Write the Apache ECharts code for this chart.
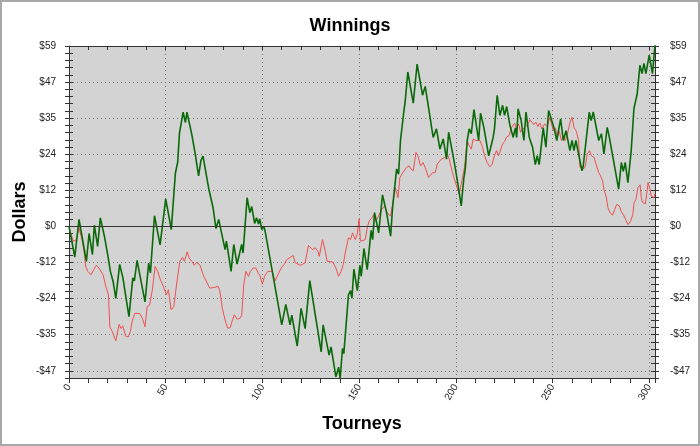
<!DOCTYPE html>
<html>
<head>
<meta charset="utf-8">
<script src="https://cdn.jsdelivr.net/npm/echarts@6/dist/echarts.min.js"></script>
<style>
html,body{margin:0;padding:0;background:#fff;}
#c{width:700px;height:446px;}
</style>
</head>
<body>
<div id="c"></div>
<script>
// ---- data ----
const greenTourneys = [0,3,5.2,7.2,9,10.4,12.1,13.1,14.8,16.2,18.3,20,21.4,22.8,24.2,26.2,27.9,31,33,33.8,35.2,39.3,41.2,42.1,44.2,47.1,50,52.9,55,56.2,57.1,59,60.2,61,63.5,65.2,67,68.2,69.3,72.2,74.5,76,77.4,80.7,81.4,83.8,85.2,86.9,89.3,90,92.1,93.5,94.5,96,97,98,98.6,99.7,100.7,101.4,105.5,110,112.1,114.3,115.2,118,120,122.1,124.5,130.4,131.4,134.5,135.5,138,139.4,140.2,141.4,142.1,144.5,145.6,146.3,147.3,149.1,150.4,151.1,152.5,154.2,156.2,157,158,160.1,162.1,164.2,166.3,167.3,169.4,170.4,171.4,172.2,173.2,173.8,175.2,178,180,182.8,184.2,188.3,190,191.8,193.5,195.2,196.3,199.2,201.1,202.8,204.2,204.9,205.9,206.9,208,209.4,211.8,212.8,214.5,217,219.3,220,221.4,222.8,224.2,225.2,226.3,228,229.7,230.8,231.5,232.2,233.8,235.2,236.3,238,239.7,241.1,242.1,243.1,245.2,246.6,248,249,250.8,252.2,254.2,255.6,257,259,260.1,261.1,262.1,265.2,265.9,269,270,271.1,273.9,275.3,276.6,278.3,279.4,284.2,285.6,286.6,287.6,289,290.7,292.1,293.8,295.2,296.3,297.3,298.3,300,301.7,303];
const greenDollars = [0,-10,2.3,-5,-11.4,-2.3,-9.2,0.4,-6.5,2.8,-3.2,-9.2,-14.7,-18,-23.5,-12.4,-16.9,-29.5,-16.8,-17.8,-11.1,-24.7,-12,-15.2,3.5,-6,9,-1,17.4,21,30.4,37.4,34,37.4,30,24,16.5,21.5,23,12.5,6.1,-0.7,2.3,-7.6,-4.8,-14.7,-5.9,-12.3,-5.9,-8.7,9.4,4.5,6.5,1,2.8,0.8,2.5,-1,0.1,-1.5,-16,-32.2,-25.5,-32.2,-29,-39.1,-26.8,-33.4,-17.7,-41,-32.2,-42.1,-39.4,-49.2,-46,-49.8,-39.9,-41.6,-22.4,-21,-23.5,-14,-21,-12.7,-16.3,-7.2,-14.1,-1.3,-4.3,4.5,-2.1,10.3,4.5,-3.2,6.1,18.8,17.1,28.1,28.5,37.9,40.7,50.5,40.3,53.1,42.9,45.8,29.1,31.9,25.3,28.6,22,30.8,21,13.8,6.7,16,18.8,28.1,31.9,30.3,38.2,28.1,37,32.4,23.1,29.1,31.9,42.9,36.3,39.6,36.3,39.2,33,29.1,32.2,29.1,38.5,34.6,28.1,37.4,29.1,25.9,20.2,23.1,20.2,32.2,25.9,37.9,38.5,32.2,28.1,35.2,28.1,31.3,24.8,28.1,24.8,28.1,18.2,19.8,37.4,34.6,37.4,28.1,30.3,23.7,32.4,29.1,12.2,20.9,18,20.9,14.3,24.8,38.5,43.4,52.7,50,53.3,50,56,50,59.3];

const redTourneys = [0,2.1,3.5,5.2,6.9,8,8.6,9.7,11.4,12.8,14.2,15.5,17.6,19.3,20.4,21.1,22.4,24.2,25.9,26.9,27.8,29.3,30.7,31.7,32.8,34.1,36.6,38,39.3,40.4,41.7,43.1,44.5,45.9,47.3,48.6,50.4,51.4,52.8,54.2,55.6,57.3,58.7,59.7,61.1,62.1,63.5,64.8,65.9,67.6,68.6,69.7,72.8,75.4,77.1,77.9,79.3,80.7,82.1,83.4,84.5,85.5,86.9,88.3,89.3,90.3,91.4,92.8,93.8,95.2,96.6,97.9,98.7,100,101.1,102.8,104.9,106.6,108,109.7,111.4,112.5,113.5,115.9,117,119.7,122.1,122.8,123.8,125.9,127.3,128.7,129.4,131.1,132.5,133.5,136.3,138,139.4,140.7,141.8,142.8,144.5,145.6,146.6,148,149,150,150.7,152.1,153.2,154.2,155.2,156.6,157.6,158.7,160,161.8,163.2,164.2,165.2,166.3,167.3,168.7,170.1,171.1,172.1,173.1,174.5,175.9,176.9,178,179.4,180.4,181.8,183.1,184.5,185.9,186.9,188,189.4,190.4,191.4,192.5,193.5,194.5,195.6,196.6,197.3,198.3,199.3,200.7,201.8,204.5,205.9,206.9,208,209,210.4,212.5,213.8,214.9,216.2,217.6,218.7,220,221.1,222.1,222.8,224.2,225.2,226.2,227.6,228.7,229.7,230.4,231.4,232.5,233.5,234.2,235.2,236.2,237.3,238.3,239.3,240.4,241.4,242.5,243.5,244.5,245.9,247.3,248.7,249.7,250.4,251.5,252.5,253.5,254.6,255.6,256.6,257.7,259.1,260.1,261.1,262.2,262.8,263.5,264.2,265.3,265.9,267,268,269.1,270.1,271.5,272.5,273.9,274.9,275.9,276.6,277.7,278.7,279.7,281.1,282.2,283.2,283.9,284.6,285.6,287,288,289,289.7,290.4,291.5,292.2,293.2,294.2,295.3,295.9,296.6,297.3,298,298.7,299.4,300.4,301.1,301.8,302.5,303];
const redDollars = [-0.5,-4.6,-4.8,-0.5,-4.8,-9.2,-13,-14.7,-15.8,-14.1,-12.7,-13.6,-15.8,-20.2,-22.4,-32.8,-34.4,-37.4,-32,-33.4,-32.5,-35.9,-36.1,-34.4,-30.6,-28.4,-28.5,-30.1,-32.8,-26.2,-25.7,-20.7,-13.1,-14.7,-17.5,-19.3,-22.4,-20.7,-27.3,-26.2,-19.1,-11.4,-10.1,-11.4,-8.3,-10.3,-11.4,-12.7,-11.8,-12.5,-12.3,-16.3,-20.2,-19.9,-19.6,-20.7,-26.8,-30.6,-33.3,-33.1,-30.6,-28.9,-30.3,-30.1,-29.2,-19.5,-14.7,-16.3,-14.7,-13.6,-13.6,-15.3,-16,-18.9,-16.3,-14.7,-14.7,-17.8,-15.8,-13.6,-12.3,-10.9,-11.4,-9.5,-11.9,-12.7,-11.9,-11.4,-6.2,-7.6,-7,-8.1,-9.8,-4.3,-8.1,-11.4,-11.6,-13.6,-16.3,-14.7,-12.5,-8.7,-3.7,-4.3,-2.1,-4.3,-2.6,2.5,-4.8,-4.6,-4.3,-0.5,1.7,2.8,3.9,1.7,3.4,5.6,6.7,5,3.9,3.4,7.2,12.7,9.4,16,17.1,17.6,19.3,19.8,18.7,18.2,24.2,23.1,19.8,20.9,18.7,16,16.5,17.6,17.6,20.4,19.8,22,22,22.6,23.7,22,21.5,17.6,15.4,12.7,10.5,19.3,28.1,26.4,25.3,28.6,28.1,28.1,25.9,23.1,20.9,19.5,20.2,23.1,24.8,23.1,22.6,27,27.8,29.2,29.7,32.2,32.4,33.8,31.9,33.5,30.8,31.6,31.3,32.7,33.5,34.9,34.4,33.3,34.1,32.7,33.8,31.9,33.5,32.7,35.7,33,31.3,32.2,29.2,31.1,28.1,29.7,28.1,30.2,34.1,35.7,32.4,31.3,31.8,28.1,19.3,19.8,18.7,19.8,23.7,24.8,23.1,22.6,20.4,17.6,16.5,14.9,12.1,9.9,6.1,4.5,3.7,5.6,7.2,7.8,6.7,4.8,3.4,2.8,0.6,0.5,1.7,3.9,7.8,8.9,12.7,13.6,9.4,7.8,8.3,7.4,10.5,14.4,12.1,9.9,10.3,9.4,10.7];

const yTickValues = [-47.2,-35.4,-23.6,-11.8,0,11.8,23.6,35.4,47.2,59];
const yTickLabels = ['-$47','-$35','-$24','-$12','$0','$12','$24','$35','$47','$59'];
const xMaxTourney = 303;

// ---- chart ----
const chart = echarts.init(document.getElementById('c'), null, {renderer:'canvas'});
const FONT = 'Liberation Sans, Arial, sans-serif';
const yMin = -49.56, yMax = 59, yMinor = 2.36;
function yLabel(v){
  const i = yTickValues.findIndex(t => Math.abs(t - v) < 0.01);
  return i >= 0 ? yTickLabels[i] : '';
}
const axisCol = '#333';
const labelStyle = {fontFamily: FONT, fontSize: 10, color: '#222'};
function yBase(pos, extra){
  return Object.assign({
    type:'value', position: pos, min: yMin, max: yMax, interval: yMinor,
    axisLine:{show:false, lineStyle:{color:axisCol}},
    axisTick:{show:false}, axisLabel:{show:false}, splitLine:{show:false}
  }, extra);
}
const option = {
  animation:false,
  backgroundColor:'#fff',
  title:{text:'Winnings', left:'center', top:12,
    textStyle:{fontFamily:FONT, fontSize:18, fontWeight:'bold', color:'#000'}},
  grid:{left:69, right:45, top:46, bottom:68, show:true, backgroundColor:'#d3d3d3', borderWidth:0},
  graphic:[{type:'rect', shape:{x:1, y:1, width:698, height:444},
    style:{fill:'none', stroke:'#a8a8a8', lineWidth:2}, silent:true}],
  xAxis:[
    {type:'value', position:'bottom', min:0, max:xMaxTourney, interval:50,
     name:'Tourneys', nameLocation:'middle', nameGap:37,
     nameTextStyle:{fontFamily:FONT, fontSize:18, fontWeight:'bold', color:'#000'},
     axisLine:{show:true, onZero:false, lineStyle:{color:axisCol}},
     axisTick:{show:true, length:5, lineStyle:{color:axisCol}},
     minorTick:{show:true, splitNumber:5, length:5, lineStyle:{color:axisCol}},
     axisLabel:Object.assign({rotate:60, margin:7, formatter:v => (v % 50 === 0 ? String(v) : '')}, labelStyle),
     splitLine:{show:true, lineStyle:{color:'#777', type:[1,3], width:1}}},
    {type:'value', position:'top', min:0, max:xMaxTourney, interval:50,
     axisLine:{show:true, onZero:false, lineStyle:{color:axisCol}},
     axisTick:{show:true, inside:true, length:4, lineStyle:{color:axisCol}},
     minorTick:{show:true, splitNumber:5, length:4, lineStyle:{color:axisCol}},
     axisLabel:{show:false}, splitLine:{show:false}}
  ],
  yAxis:[
    yBase('left', {name:'Dollars', nameLocation:'middle', nameGap:40, nameMoveOverlap:false,
      nameTextStyle:{fontFamily:FONT, fontSize:18, fontWeight:'bold', color:'#000'},
      axisLine:{show:true, onZero:false, lineStyle:{color:axisCol}},
      axisTick:{show:true, length:4, lineStyle:{color:axisCol}},
      axisLabel:Object.assign({show:true, margin:13, formatter:yLabel}, labelStyle)}),
    yBase('left', {axisTick:{show:true, inside:true, length:4, lineStyle:{color:axisCol}}}),
    yBase('left', {interval:null, axisTick:{show:false, customValues:yTickValues},
      splitLine:{show:true, lineStyle:{color:'#777', type:[1,3], width:1}}}),
    yBase('right', {
      axisLine:{show:true, onZero:false, lineStyle:{color:axisCol}},
      axisTick:{show:true, length:4, lineStyle:{color:axisCol}},
      axisLabel:Object.assign({show:true, margin:15, formatter:yLabel}, labelStyle)}),
    yBase('right', {axisTick:{show:true, inside:true, length:4, lineStyle:{color:axisCol}}})
  ],
  series:[
    {type:'line', name:'red', xAxisIndex:0, yAxisIndex:0, showSymbol:false, symbol:'none',
     data: redTourneys.map((t,i) => [t, redDollars[i]]),
     lineStyle:{color:'#f05050', width:1}, z:2,
     markLine:{silent:true, symbol:'none', label:{show:false},
       lineStyle:{color:'#333', type:'solid', width:1}, data:[{yAxis:0}]}},
    {type:'line', name:'green', xAxisIndex:0, yAxisIndex:0, showSymbol:false, symbol:'none',
     data: greenTourneys.map((t,i) => [t, greenDollars[i]]),
     lineStyle:{color:'#0a6a0a', width:1.6}, z:3}
  ]
};
chart.setOption(option);
</script>
</body>
</html>
